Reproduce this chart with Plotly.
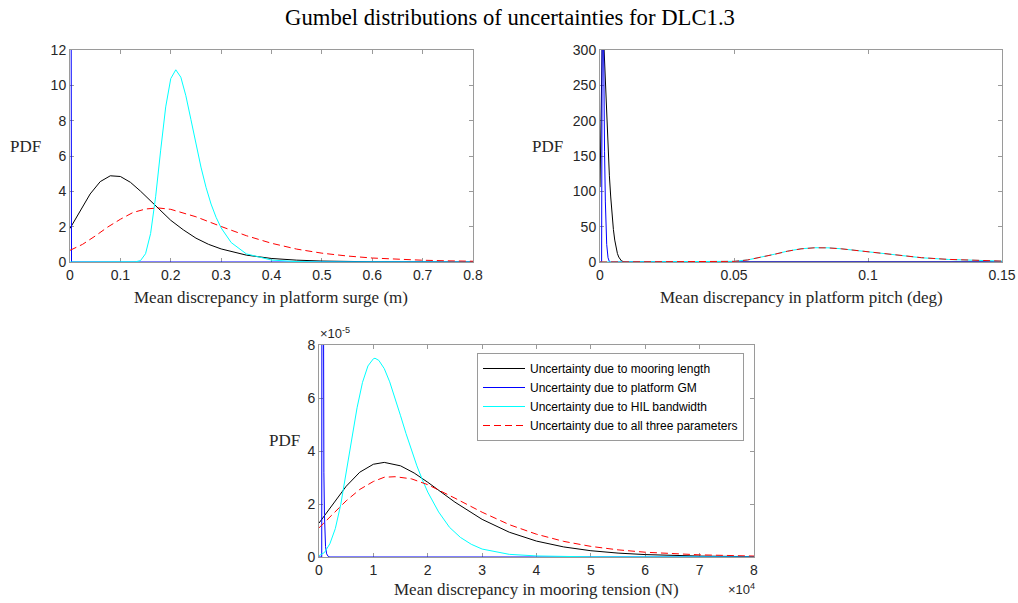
import plotly.graph_objects as go

# ---------------- data ----------------
series_names = [
    "Uncertainty due to mooring length",
    "Uncertainty due to platform GM",
    "Uncertainty due to HIL bandwidth",
    "Uncertainty due to all three parameters",
]

# Panel 1: platform surge (m)
surge_len_x = [0, 0.02, 0.04, 0.06, 0.08, 0.1, 0.12, 0.14, 0.16, 0.18, 0.2, 0.225, 0.25, 0.275, 0.3, 0.35, 0.4, 0.45, 0.5, 0.6, 0.7, 0.8]
surge_len_y = [1.9, 2.9, 3.85, 4.55, 4.88, 4.84, 4.51, 4.01, 3.45, 2.89, 2.36, 1.82, 1.35, 1.0, 0.74, 0.39, 0.2, 0.105, 0.054, 0.014, 0.004, 0.001]
surge_gm_x = [0, 0.001, 0.002, 0.003, 0.8]
surge_gm_y = [60, 25, 3, 0, 0]
surge_hil_x = [0, 0.12, 0.13, 0.14, 0.15, 0.16, 0.17, 0.18, 0.19, 0.2, 0.21, 0.22, 0.23, 0.24, 0.25, 0.26, 0.27, 0.28, 0.29, 0.3, 0.32, 0.35, 0.4, 0.45, 0.5, 0.8]
surge_hil_y = [0, 0, 0.01, 0.08, 0.47, 1.61, 3.69, 6.33, 8.78, 10.38, 10.88, 10.46, 9.41, 8.07, 6.67, 5.37, 4.23, 3.28, 2.53, 1.93, 1.10, 0.46, 0.11, 0.024, 0.005, 0]
surge_all_x = [0, 0.025, 0.05, 0.075, 0.1, 0.125, 0.15, 0.175, 0.2, 0.25, 0.3, 0.35, 0.4, 0.45, 0.5, 0.55, 0.6, 0.65, 0.7, 0.75, 0.8]
surge_all_y = [0.66, 1.0, 1.47, 1.98, 2.42, 2.8, 3.0, 3.06, 2.98, 2.56, 2.01, 1.49, 1.06, 0.73, 0.5, 0.34, 0.225, 0.15, 0.1, 0.066, 0.043]

# Panel 2: platform pitch (deg)
pitch_len_x = [0, 0.0003, 0.0006, 0.0009, 0.0012, 0.0015, 0.002, 0.0025, 0.003, 0.0035, 0.004, 0.0045, 0.005, 0.0055, 0.006, 0.0065, 0.007, 0.0075, 0.008, 0.009, 0.01, 0.15]
pitch_len_y = [106, 200, 285, 330, 330, 300, 250, 200, 160, 122, 92, 66, 46, 31, 20, 12, 7, 3.5, 1.5, 0.4, 0, 0]
pitch_gm_x = [0, 0.0006, 0.0009, 0.0012, 0.0014, 0.0017, 0.002, 0.0022, 0.0025, 0.003, 0.0035, 0.004, 0.15]
pitch_gm_y = [0, 0, 500, 330, 240, 156, 85, 52, 25, 6, 0.5, 0, 0]
pitch_x = [0, 0.04, 0.045, 0.05, 0.055, 0.06, 0.065, 0.07, 0.075, 0.08, 0.085, 0.09, 0.095, 0.1, 0.105, 0.11, 0.115, 0.12, 0.13, 0.14, 0.15]
pitch_hil_y = [0, 0.01, 0.19, 0.92, 2.9, 6.4, 10.9, 15.4, 18.7, 20.2, 20.1, 18.7, 16.5, 14.1, 11.7, 9.5, 7.6, 6.0, 3.6, 2.15, 1.26]
pitch_all_y = [0, 0.01, 0.18, 0.9, 2.85, 6.3, 10.8, 15.3, 18.6, 20.1, 20.0, 18.7, 16.5, 14.1, 11.8, 9.6, 7.7, 6.1, 3.7, 2.2, 1.3]

# Panel 3: mooring tension (N)
ten_len_x = [0, 2500, 5000, 7500, 10000, 12000, 15000, 17500, 20000, 25000, 30000, 35000, 40000, 45000, 50000, 55000, 60000, 70000, 80000]
ten_len_y = [1.28e-5, 1.98e-5, 2.67e-5, 3.2e-5, 3.5e-5, 3.57e-5, 3.44e-5, 3.17e-5, 2.82e-5, 2.07e-5, 1.42e-5, 0.935e-5, 0.6e-5, 0.38e-5, 0.237e-5, 0.147e-5, 0.091e-5, 0.035e-5, 0.013e-5]
ten_gm_x = [0, 500, 600, 700, 800, 900, 1000, 1100, 1200, 1400, 1700, 2000, 80000]
ten_gm_y = [0, 0, 30e-5, 14e-5, 7e-5, 3.2e-5, 1.6e-5, 0.8e-5, 0.4e-5, 0.12e-5, 0.02e-5, 0, 0]
ten_hil_x = [0, 1000, 2000, 3000, 4000, 5000, 6000, 7000, 8000, 9000, 10000, 10300, 11000, 12000, 13000, 14000, 15000, 16000, 17000, 18000, 19000, 20000, 22000, 24000, 26000, 28000, 30000, 35000, 40000, 45000, 50000, 80000]
ten_hil_y = [0.05e-5, 0.17e-5, 0.5e-5, 1.07e-5, 1.98e-5, 3.15e-5, 4.43e-5, 5.63e-5, 6.59e-5, 7.21e-5, 7.48e-5, 7.5e-5, 7.42e-5, 7.11e-5, 6.61e-5, 5.99e-5, 5.33e-5, 4.66e-5, 4.03e-5, 3.44e-5, 2.92e-5, 2.45e-5, 1.7e-5, 1.12e-5, 0.74e-5, 0.48e-5, 0.3e-5, 0.1e-5, 0.04e-5, 0.015e-5, 0.005e-5, 0]
ten_all_x = [0, 2500, 5000, 7500, 10000, 12000, 14000, 17000, 20000, 25000, 30000, 35000, 40000, 45000, 50000, 55000, 60000, 70000, 80000]
ten_all_y = [1.1e-5, 1.61e-5, 2.12e-5, 2.55e-5, 2.85e-5, 3.01e-5, 3.03e-5, 2.95e-5, 2.73e-5, 2.22e-5, 1.69e-5, 1.22e-5, 0.86e-5, 0.59e-5, 0.40e-5, 0.27e-5, 0.18e-5, 0.081e-5, 0.036e-5]

# tick labels
surge_xticks = [0, 0.1, 0.2, 0.3, 0.4, 0.5, 0.6, 0.7, 0.8]
surge_xtext = ["0", "0.1", "0.2", "0.3", "0.4", "0.5", "0.6", "0.7", "0.8"]
surge_yticks = [0, 2, 4, 6, 8, 10, 12]
pitch_xticks = [0, 0.05, 0.1, 0.15]
pitch_xtext = ["0", "0.05", "0.1", "0.15"]
pitch_yticks = [0, 50, 100, 150, 200, 250, 300]
ten_xticks = [0, 10000, 20000, 30000, 40000, 50000, 60000, 70000, 80000]
ten_xtext = ["0", "1", "2", "3", "4", "5", "6", "7", "8"]
ten_yticks = [0, 2e-5, 4e-5, 6e-5, 8e-5]
ten_ytext = ["0", "2", "4", "6", "8"]

title_text = "Gumbel distributions of uncertainties for DLC1.3"
xlabels = ["Mean discrepancy in platform surge (m)",
           "Mean discrepancy in platform pitch (deg)",
           "Mean discrepancy in mooring tension (N)"]

# ---------------- figure ----------------
W, H = 1018, 603
def px(x):
    return x / W
def py(y):
    return 1 - y / H

colors = ["#000000", "#0000ff", "#00ffff", "#ff0000"]
dashes = ["solid", "solid", "solid", "7px,4px"]

fig = go.Figure()

panels = [
    ("x", "y", [(surge_len_x, surge_len_y), (surge_gm_x, surge_gm_y), (surge_hil_x, surge_hil_y), (surge_all_x, surge_all_y)]),
    ("x2", "y2", [(pitch_len_x, pitch_len_y), (pitch_gm_x, pitch_gm_y), (pitch_x, pitch_hil_y), (pitch_x, pitch_all_y)]),
    ("x3", "y3", [(ten_len_x, ten_len_y), (ten_gm_x, ten_gm_y), (ten_hil_x, ten_hil_y), (ten_all_x, ten_all_y)]),
]
for pi, (xa, ya, data) in enumerate(panels):
    for si, (xs, ys) in enumerate(data):
        fig.add_trace(go.Scatter(
            x=xs, y=ys, mode="lines", xaxis=xa, yaxis=ya,
            name=series_names[si], showlegend=(pi == 2),
            line=dict(color=colors[si], width=1, dash=dashes[si]),
            hoverinfo="skip",
        ))

spine = "#9a9a9a"
tickfont = dict(family="Liberation Sans, Arial, sans-serif", size=14, color="#262626")
common = dict(showline=True, linecolor=spine, linewidth=1, mirror="ticks",
              ticks="inside", ticklen=4, tickcolor=spine, showgrid=False,
              zeroline=False, tickfont=tickfont, layer="below traces",
              automargin=False)

fig.update_layout(
    width=W, height=H,
    margin=dict(l=0, r=0, t=0, b=0, autoexpand=False),
    paper_bgcolor="white", plot_bgcolor="white",
    showlegend=True,
    xaxis=dict(domain=[px(70), px(473)], range=[0, 0.8], anchor="y",
               tickvals=surge_xticks, ticktext=surge_xtext, **common),
    yaxis=dict(domain=[py(262), py(50)], range=[0, 12], anchor="x",
               tickvals=surge_yticks, **common),
    xaxis2=dict(domain=[px(600), px(1002)], range=[0, 0.15], anchor="y2",
                tickvals=pitch_xticks, ticktext=pitch_xtext, **common),
    yaxis2=dict(domain=[py(262), py(50)], range=[0, 300], anchor="x2",
                tickvals=pitch_yticks, **common),
    xaxis3=dict(domain=[px(319), px(754)], range=[0, 80000], anchor="y3",
                tickvals=ten_xticks, ticktext=ten_xtext, **common),
    yaxis3=dict(domain=[py(557), py(345)], range=[0, 8e-5], anchor="x3",
                tickvals=ten_yticks, ticktext=ten_ytext, **common),
    legend=dict(x=px(477), y=py(353), xanchor="left", yanchor="top",
                bgcolor="white", bordercolor=spine, borderwidth=1,
                font=dict(family="Liberation Sans, Arial, sans-serif", size=12, color="#000000"),
                itemwidth=42, tracegroupgap=0),
)

serif = "Liberation Serif, Times New Roman, serif"
ann = []
ann.append(dict(text=title_text, x=px(510), y=py(18), xref="paper", yref="paper",
                xanchor="center", yanchor="middle", showarrow=False,
                font=dict(family=serif, size=22.7, color="#000000")))
for txt, cx, cy in [(xlabels[0], 271, 297), (xlabels[1], 801, 297), (xlabels[2], 536, 589)]:
    ann.append(dict(text=txt, x=px(cx), y=py(cy), xref="paper", yref="paper",
                    xanchor="center", yanchor="middle", showarrow=False,
                    font=dict(family=serif, size=17, color="#262626")))
for rx, cy in [(43, 146), (565, 146), (302, 440)]:
    ann.append(dict(text="PDF", x=px(rx), y=py(cy), xref="paper", yref="paper",
                    xanchor="right", yanchor="middle", showarrow=False,
                    font=dict(family=serif, size=17, color="#262626")))
ann.append(dict(text="\u00d710<sup>-5</sup>", x=px(318), y=py(343), xref="paper", yref="paper",
                xanchor="left", yanchor="bottom", showarrow=False,
                font=dict(family="Liberation Sans, Arial, sans-serif", size=13, color="#262626")))
ann.append(dict(text="\u00d710<sup>4</sup>", x=px(757), y=py(599), xref="paper", yref="paper",
                xanchor="right", yanchor="bottom", showarrow=False,
                font=dict(family="Liberation Sans, Arial, sans-serif", size=13, color="#262626")))
fig.update_layout(annotations=ann)

fig.write_html("out.html", config={"displayModeBar": False})
